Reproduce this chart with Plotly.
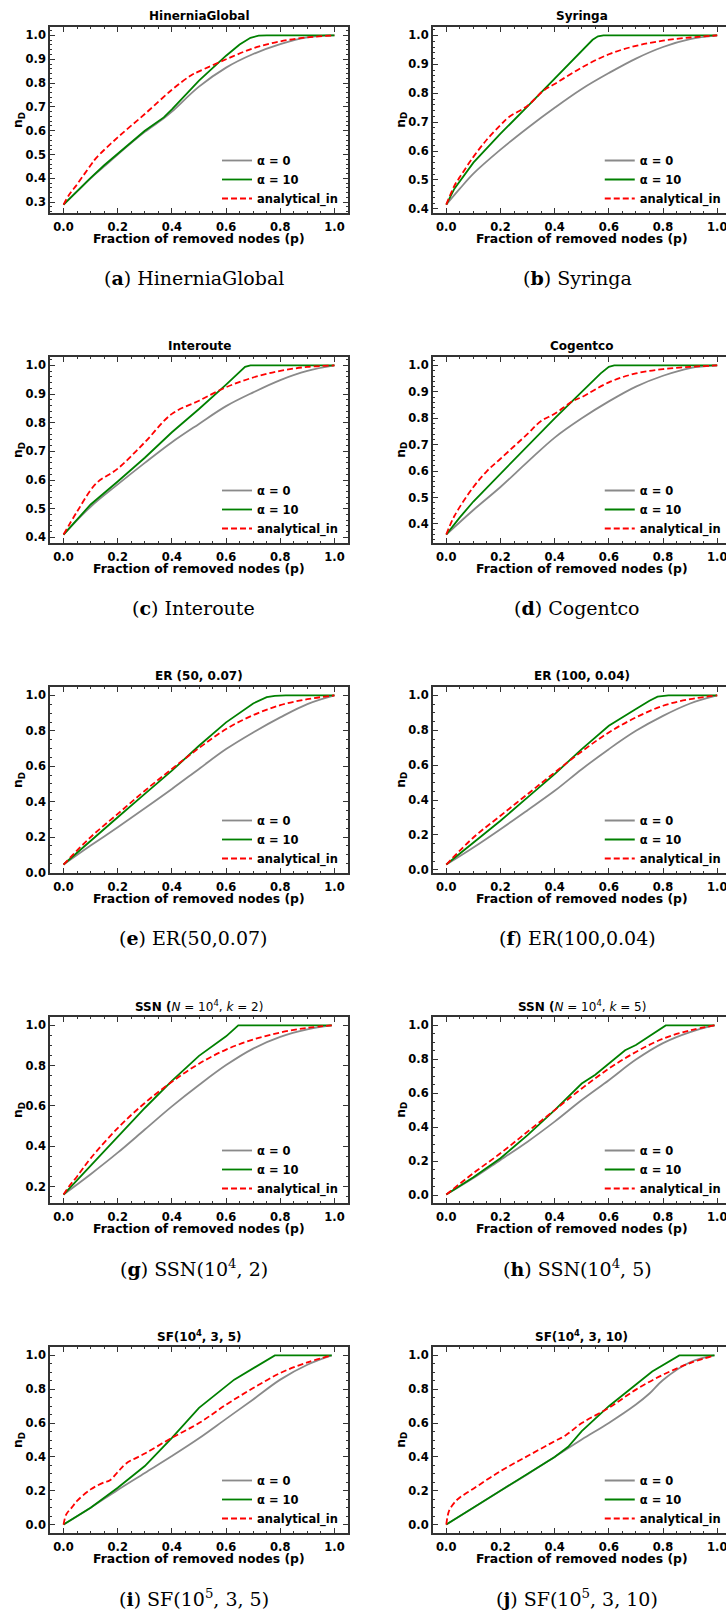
import plotly.graph_objects as go

# ---------------- data ----------------
P10 = [0, 0.1, 0.2, 0.3, 0.4, 0.5, 0.6, 0.7, 0.8, 0.9, 1.0]
P10e = [0, 0.1, 0.2, 0.3, 0.4, 0.5, 0.6, 0.7, 0.8, 0.9, 0.99]

# (a) HinerniaGlobal
hib_p_a0 = [0, 0.05, 0.1, 0.15, 0.2, 0.3, 0.37, 0.4, 0.5, 0.6, 0.7, 0.8, 0.9, 1.0]
hib_n_a0 = [0.29, 0.345, 0.40, 0.45, 0.50, 0.595, 0.652, 0.68, 0.785, 0.865, 0.922, 0.964, 0.992, 1.0]
hib_p_a10 = [0, 0.05, 0.1, 0.15, 0.2, 0.3, 0.37, 0.4, 0.5, 0.6, 0.65, 0.69, 0.72, 0.75, 1.0]
hib_n_a10 = [0.29, 0.347, 0.402, 0.455, 0.503, 0.60, 0.656, 0.69, 0.81, 0.915, 0.962, 0.99, 0.999, 1.0, 1.0]
hib_p_an = [0, 0.02, 0.05, 0.1, 0.12, 0.2, 0.3, 0.4, 0.47, 0.5, 0.6, 0.7, 0.8, 0.9, 1.0]
hib_n_an = [0.29, 0.33, 0.375, 0.455, 0.485, 0.572, 0.67, 0.772, 0.832, 0.849, 0.90, 0.946, 0.975, 0.992, 1.0]

# (b) Syringa
syr_p_a0 = [0, 0.05, 0.1, 0.2, 0.3, 0.4, 0.5, 0.6, 0.7, 0.8, 0.9, 1.0]
syr_n_a0 = [0.415, 0.47, 0.522, 0.605, 0.68, 0.75, 0.815, 0.87, 0.92, 0.96, 0.987, 1.0]
syr_p_a10 = [0, 0.03, 0.1, 0.2, 0.3, 0.4, 0.5, 0.54, 0.56, 0.58, 1.0]
syr_n_a10 = [0.415, 0.47, 0.56, 0.66, 0.755, 0.85, 0.945, 0.985, 0.997, 1.0, 1.0]
syr_p_an = [0, 0.03, 0.05, 0.1, 0.15, 0.2, 0.23, 0.3, 0.36, 0.4, 0.5, 0.6, 0.7, 0.8, 0.9, 1.0]
syr_n_an = [0.415, 0.48, 0.51, 0.58, 0.64, 0.69, 0.717, 0.757, 0.81, 0.832, 0.889, 0.935, 0.964, 0.982, 0.993, 1.0]

# (c) Interoute
int_p_a0 = P10
int_n_a0 = [0.41, 0.507, 0.585, 0.66, 0.732, 0.796, 0.858, 0.906, 0.949, 0.981, 1.0]
int_p_a10 = [0, 0.1, 0.2, 0.3, 0.4, 0.5, 0.6, 0.65, 0.67, 0.69, 1.0]
int_n_a10 = [0.41, 0.515, 0.595, 0.678, 0.767, 0.848, 0.933, 0.978, 0.995, 1.0, 1.0]
int_p_an = [0, 0.05, 0.12, 0.2, 0.3, 0.4, 0.5, 0.6, 0.7, 0.8, 0.9, 1.0]
int_n_an = [0.41, 0.49, 0.588, 0.64, 0.732, 0.831, 0.877, 0.924, 0.958, 0.981, 0.995, 1.0]

# (d) Cogentco
cog_p_a0 = P10
cog_n_a0 = [0.36, 0.453, 0.54, 0.635, 0.727, 0.80, 0.864, 0.92, 0.961, 0.99, 1.0]
cog_p_a10 = [0, 0.05, 0.1, 0.2, 0.3, 0.4, 0.5, 0.57, 0.6, 0.62, 1.0]
cog_n_a10 = [0.36, 0.425, 0.485, 0.59, 0.695, 0.80, 0.90, 0.97, 0.995, 1.0, 1.0]
cog_p_an = [0, 0.03, 0.1, 0.15, 0.2, 0.3, 0.35, 0.4, 0.47, 0.5, 0.6, 0.7, 0.8, 0.9, 1.0]
cog_n_an = [0.36, 0.43, 0.54, 0.60, 0.647, 0.741, 0.79, 0.817, 0.867, 0.88, 0.936, 0.97, 0.986, 0.995, 1.0]

# (e) ER(50, 0.07)
er50_p_a0 = P10
er50_n_a0 = [0.045, 0.152, 0.256, 0.363, 0.472, 0.585, 0.697, 0.791, 0.876, 0.951, 1.0]
er50_p_a10 = [0, 0.1, 0.2, 0.3, 0.4, 0.5, 0.6, 0.7, 0.75, 0.78, 0.82, 1.0]
er50_n_a10 = [0.045, 0.18, 0.312, 0.444, 0.575, 0.716, 0.848, 0.955, 0.99, 0.998, 1.0, 1.0]
er50_p_an = P10
er50_n_an = [0.045, 0.20, 0.331, 0.462, 0.585, 0.703, 0.81, 0.889, 0.945, 0.979, 1.0]

# (f) ER(100, 0.04)
er100_p_a0 = P10
er100_n_a0 = [0.03, 0.128, 0.233, 0.342, 0.453, 0.577, 0.692, 0.797, 0.883, 0.954, 1.0]
er100_p_a10 = [0, 0.1, 0.2, 0.3, 0.4, 0.5, 0.6, 0.7, 0.75, 0.78, 0.82, 1.0]
er100_n_a10 = [0.03, 0.157, 0.281, 0.415, 0.549, 0.692, 0.826, 0.922, 0.97, 0.993, 1.0, 1.0]
er100_p_an = P10
er100_n_an = [0.03, 0.185, 0.31, 0.434, 0.558, 0.679, 0.788, 0.874, 0.941, 0.979, 1.0]

# (g) SSN(1e4, 2)
ssn2_p_a0 = P10e
ssn2_n_a0 = [0.16, 0.261, 0.368, 0.483, 0.598, 0.704, 0.803, 0.885, 0.943, 0.98, 1.0]
ssn2_p_a10 = [0, 0.1, 0.2, 0.3, 0.4, 0.5, 0.6, 0.645, 0.99]
ssn2_n_a10 = [0.16, 0.305, 0.45, 0.59, 0.725, 0.849, 0.946, 1.0, 1.0]
ssn2_p_an = [0, 0.02, 0.05, 0.1, 0.2, 0.3, 0.4, 0.5, 0.6, 0.7, 0.8, 0.9, 0.99]
ssn2_n_an = [0.16, 0.2, 0.25, 0.34, 0.49, 0.615, 0.72, 0.81, 0.88, 0.93, 0.965, 0.988, 1.0]

# (h) SSN(1e4, 5)
ssn5_p_a0 = P10e
ssn5_n_a0 = [0.005, 0.102, 0.209, 0.316, 0.434, 0.561, 0.678, 0.799, 0.896, 0.961, 1.0]
ssn5_p_a10 = [0, 0.1, 0.2, 0.3, 0.4, 0.5, 0.55, 0.66, 0.7, 0.81, 0.99]
ssn5_n_a10 = [0.005, 0.107, 0.219, 0.355, 0.502, 0.658, 0.71, 0.854, 0.885, 1.0, 1.0]
ssn5_p_an = P10e
ssn5_n_an = [0.005, 0.131, 0.248, 0.375, 0.502, 0.629, 0.746, 0.844, 0.922, 0.971, 1.0]

# (i) SF(1e5, 3, 5)
sf5_p_a0 = P10e
sf5_n_a0 = [0.0, 0.10, 0.205, 0.305, 0.405, 0.51, 0.625, 0.74, 0.857, 0.945, 1.0]
sf5_p_a10 = [0, 0.1, 0.2, 0.3, 0.4, 0.5, 0.63, 0.7, 0.78, 0.99]
sf5_n_a10 = [0.0, 0.10, 0.218, 0.346, 0.513, 0.69, 0.857, 0.925, 1.0, 1.0]
sf5_p_an = [0, 0.01, 0.03, 0.05, 0.1, 0.15, 0.17, 0.2, 0.23, 0.3, 0.4, 0.5, 0.6, 0.7, 0.8, 0.9, 0.99]
sf5_n_an = [0.0, 0.06, 0.1, 0.14, 0.208, 0.25, 0.26, 0.31, 0.36, 0.42, 0.513, 0.6, 0.709, 0.807, 0.896, 0.959, 1.0]

# (j) SF(1e5, 3, 10)
sf10_p_a0 = [0, 0.1, 0.2, 0.3, 0.4, 0.5, 0.6, 0.7, 0.75, 0.8, 0.9, 0.99]
sf10_n_a0 = [0.0, 0.10, 0.20, 0.298, 0.40, 0.503, 0.601, 0.71, 0.775, 0.855, 0.96, 1.0]
sf10_p_a10 = [0, 0.1, 0.2, 0.3, 0.4, 0.45, 0.5, 0.6, 0.7, 0.76, 0.86, 0.99]
sf10_n_a10 = [0.0, 0.10, 0.20, 0.298, 0.40, 0.46, 0.552, 0.70, 0.83, 0.905, 1.0, 1.0]
sf10_p_an = [0, 0.01, 0.03, 0.05, 0.1, 0.2, 0.3, 0.4, 0.44, 0.5, 0.6, 0.7, 0.8, 0.9, 0.99]
sf10_n_an = [0.0, 0.08, 0.13, 0.16, 0.212, 0.316, 0.405, 0.493, 0.527, 0.60, 0.69, 0.798, 0.886, 0.955, 1.0]

titles = [
    "<b>HinerniaGlobal</b>", "<b>Syringa</b>", "<b>Interoute</b>", "<b>Cogentco</b>",
    "<b>ER (50, 0.07)</b>", "<b>ER (100, 0.04)</b>",
    "<b>SSN (</b><i>N</i> = 10<sup>4</sup>, <i>k</i> = 2)",
    "<b>SSN (</b><i>N</i> = 10<sup>4</sup>, <i>k</i> = 5)",
    "<b>SF(10<sup>4</sup>, 3, 5)</b>", "<b>SF(10<sup>4</sup>, 3, 10)</b>",
]
captions = [
    "(<b>a</b>) HinerniaGlobal", "(<b>b</b>) Syringa", "(<b>c</b>) Interoute",
    "(<b>d</b>) Cogentco", "(<b>e</b>) ER(50,0.07)", "(<b>f</b>) ER(100,0.04)",
    "(<b>g</b>) SSN(10<sup>4</sup>, 2)", "(<b>h</b>) SSN(10<sup>4</sup>, 5)",
    "(<b>i</b>) SF(10<sup>5</sup>, 3, 5)", "(<b>j</b>) SF(10<sup>5</sup>, 3, 10)",
]
series_names = ["α = 0", "α = 10", "analytical_in"]
ytick_steps = [0.1, 0.1, 0.1, 0.1, 0.2, 0.2, 0.2, 0.2, 0.2, 0.2]

panels = [
    (hib_p_a0, hib_n_a0, hib_p_a10, hib_n_a10, hib_p_an, hib_n_an),
    (syr_p_a0, syr_n_a0, syr_p_a10, syr_n_a10, syr_p_an, syr_n_an),
    (int_p_a0, int_n_a0, int_p_a10, int_n_a10, int_p_an, int_n_an),
    (cog_p_a0, cog_n_a0, cog_p_a10, cog_n_a10, cog_p_an, cog_n_an),
    (er50_p_a0, er50_n_a0, er50_p_a10, er50_n_a10, er50_p_an, er50_n_an),
    (er100_p_a0, er100_n_a0, er100_p_a10, er100_n_a10, er100_p_an, er100_n_an),
    (ssn2_p_a0, ssn2_n_a0, ssn2_p_a10, ssn2_n_a10, ssn2_p_an, ssn2_n_an),
    (ssn5_p_a0, ssn5_n_a0, ssn5_p_a10, ssn5_n_a10, ssn5_p_an, ssn5_n_an),
    (sf5_p_a0, sf5_n_a0, sf5_p_a10, sf5_n_a10, sf5_p_an, sf5_n_an),
    (sf10_p_a0, sf10_n_a0, sf10_p_a10, sf10_n_a10, sf10_p_an, sf10_n_an),
]

# ---------------- layout geometry (pixels) ----------------
W, H = 726, 1614
ROW_TOPS = [27, 357, 687, 1017, 1347]
FRAME_H = 186
COL_LEFT = [50.0, 432.75]
FRAME_W = 298.0
PX_PER_UNIT = FRAME_W / 1.1

FONT = "DejaVu Sans"
FRAME_COLOR = "#333333"
tick_font = dict(family=FONT, size=11.5, color="black", weight="bold")


def px_x(v):
    return v / W


def px_y(v):
    return 1 - v / H


fig = go.Figure()
layout = dict(
    width=W, height=H,
    margin=dict(l=0, r=0, t=0, b=0),
    paper_bgcolor="white", plot_bgcolor="white",
    showlegend=True,
    annotations=[],
)

styles = [
    dict(color="#8a8a8a", width=1.8),
    dict(color="green", width=1.8),
    dict(color="red", width=1.8, dash="6px,3px"),
]

for k in range(10):
    row, col = divmod(k, 2)
    sfx = "" if k == 0 else str(k + 1)
    top = ROW_TOPS[row]
    bot = top + FRAME_H
    left = COL_LEFT[col]
    right_full = left + FRAME_W
    right = min(right_full, W)
    xr_hi = -0.05 + (right - left) / PX_PER_UNIT

    data = panels[k]
    allv = data[1] + data[3] + data[5]
    lo = min(allv)
    span = 1.0 - lo
    yr = [lo - 0.05 * span, 1.0 + 0.05 * span]

    for s in range(3):
        fig.add_trace(go.Scatter(
            x=data[2 * s], y=data[2 * s + 1], mode="lines",
            name=series_names[s], line=styles[s],
            line_shape="spline" if s != 1 else "linear",
            xaxis="x" + sfx, yaxis="y" + sfx,
            legend="legend" + sfx, hoverinfo="skip",
        ))

    ystep = ytick_steps[k]
    layout["xaxis" + sfx] = dict(
        domain=[px_x(left), px_x(right)], anchor="y" + sfx,
        range=[-0.05, xr_hi], tickmode="linear", tick0=0, dtick=0.2,
        tickformat=".1f", ticks="inside", ticklen=5, tickwidth=1.2,
        tickcolor=FRAME_COLOR, showline=True, linecolor=FRAME_COLOR,
        linewidth=1.6, mirror="allticks", showgrid=False, zeroline=False,
        tickfont=tick_font, automargin=False, ticklabeloverflow="allow",
        ticklabelstandoff=2,
        minor=dict(ticks="inside", ticklen=2.5, tickwidth=1, dtick=0.05,
                   tick0=0, tickcolor=FRAME_COLOR, showgrid=False),
    )
    layout["yaxis" + sfx] = dict(
        domain=[px_y(bot), px_y(top)], anchor="x" + sfx,
        range=yr, tickmode="linear", tick0=0, dtick=ystep,
        tickformat=".1f", ticks="inside", ticklen=5, tickwidth=1.2,
        tickcolor=FRAME_COLOR, showline=True, linecolor=FRAME_COLOR,
        linewidth=1.6, mirror="allticks" if col == 0 else False,
        showgrid=False, zeroline=False, tickfont=tick_font, automargin=False,
        ticklabeloverflow="allow",
        minor=dict(ticks="inside", ticklen=2.5, tickwidth=1,
                   dtick=0.02 if ystep == 0.1 else 0.05, tick0=0,
                   tickcolor=FRAME_COLOR, showgrid=False),
    )
    layout["legend" + sfx] = dict(
        x=px_x(left + 167), y=px_y(bot), xanchor="left", yanchor="bottom",
        xref="paper", yref="paper",
        bgcolor="rgba(0,0,0,0)", borderwidth=0,
        font=dict(family=FONT, size=11.5, color="black", weight="bold"),
        tracegroupgap=0, itemwidth=30,
    )

    cx = left + FRAME_W / 2
    # subplot title
    layout["annotations"].append(dict(
        text=titles[k], x=px_x(cx), y=px_y(top - 11), xref="paper", yref="paper",
        xanchor="center", yanchor="middle", showarrow=False,
        font=dict(family=FONT, size=12, color="black"),
    ))
    # x label
    layout["annotations"].append(dict(
        text="<b>Fraction of removed nodes (p)</b>", x=px_x(cx), y=px_y(bot + 25),
        xref="paper", yref="paper", xanchor="center", yanchor="middle",
        showarrow=False, font=dict(family=FONT, size=12.4, color="black"),
    ))
    # y label
    layout["annotations"].append(dict(
        text="<b>n<sub>D</sub></b>", x=px_x(left - 32), y=px_y((top + bot) / 2),
        xref="paper", yref="paper", xanchor="center", yanchor="middle",
        textangle=-90, showarrow=False,
        font=dict(family=FONT, size=12.4, color="black"),
    ))
    # caption
    layout["annotations"].append(dict(
        text=captions[k], x=px_x(194 if col == 0 else 577), y=px_y(bot + 65),
        xref="paper", yref="paper", xanchor="center", yanchor="middle",
        showarrow=False,
        font=dict(family="DejaVu Serif", size=19, color="black"),
    ))

fig.update_layout(**layout)
fig.write_html(
    "out.html",
    config={"displayModeBar": False},
    post_script="document.body.style.margin='0';document.body.style.overflow='hidden';",
)
